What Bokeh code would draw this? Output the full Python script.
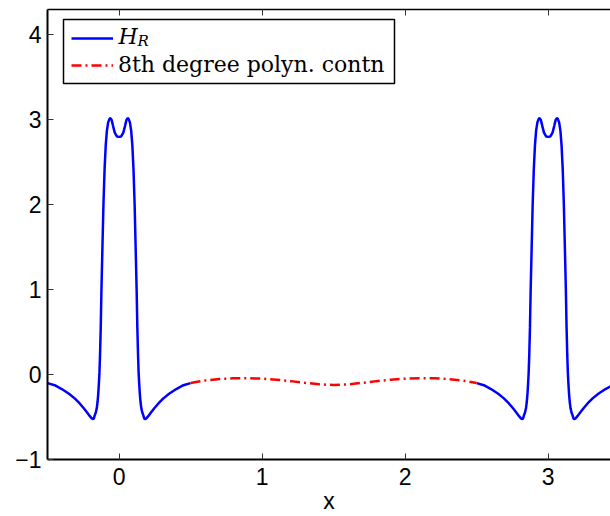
from bokeh.plotting import figure
from bokeh.models import (Range1d, LinearAxis, FixedTicker, Legend, LegendItem, Label,
                          CustomJSTickFormatter, BoxAnnotation)
from bokeh.embed import file_html
from bokeh.resources import INLINE

# H_R, left period segment
x_left = [-0.500, -0.450, -0.400, -0.350, -0.310, -0.275, -0.245, -0.222, -0.204, -0.191,
          -0.181, -0.176, -0.170, -0.163, -0.156, -0.150, -0.145, -0.141, -0.137, -0.133,
          -0.128, -0.123, -0.116, -0.109, -0.101, -0.093, -0.085, -0.076, -0.066, -0.060,
          -0.052, -0.042, -0.030, -0.015, 0.000, 0.015, 0.030, 0.042, 0.052, 0.060,
          0.066, 0.076, 0.085, 0.093, 0.101, 0.109, 0.116, 0.123, 0.128, 0.133,
          0.137, 0.141, 0.145, 0.150, 0.156, 0.163, 0.170, 0.176, 0.181, 0.191,
          0.204, 0.222, 0.245, 0.275, 0.310, 0.350, 0.400, 0.450, 0.500]
y_left = [-0.10, -0.125, -0.17, -0.225, -0.28, -0.34, -0.40, -0.45, -0.49, -0.515,
          -0.525, -0.515, -0.48, -0.45, -0.40, -0.32, -0.22, -0.11, 0.02, 0.22,
          0.55, 1.00, 1.50, 2.00, 2.42, 2.70, 2.87, 2.97, 3.015, 3.02,
          3.00, 2.93, 2.85, 2.805, 2.80, 2.805, 2.85, 2.93, 3.00, 3.02,
          3.015, 2.97, 2.87, 2.70, 2.42, 2.00, 1.50, 1.00, 0.55, 0.22,
          0.02, -0.11, -0.22, -0.32, -0.40, -0.45, -0.48, -0.515, -0.525, -0.515,
          -0.49, -0.45, -0.40, -0.34, -0.28, -0.225, -0.17, -0.125, -0.10]

# H_R, right period segment
x_right = [2.500, 2.550, 2.600, 2.650, 2.690, 2.725, 2.755, 2.778, 2.796, 2.809,
           2.819, 2.824, 2.830, 2.837, 2.844, 2.850, 2.855, 2.859, 2.863, 2.867,
           2.872, 2.877, 2.884, 2.891, 2.899, 2.907, 2.915, 2.924, 2.934, 2.940,
           2.948, 2.958, 2.970, 2.985, 3.000, 3.015, 3.030, 3.042, 3.052, 3.060,
           3.066, 3.076, 3.085, 3.093, 3.101, 3.109, 3.116, 3.123, 3.128, 3.133,
           3.137, 3.141, 3.145, 3.150, 3.156, 3.163, 3.170, 3.176, 3.181, 3.191,
           3.204, 3.222, 3.245, 3.275, 3.310, 3.350, 3.400, 3.450]
y_right = [-0.10, -0.125, -0.17, -0.225, -0.28, -0.34, -0.40, -0.45, -0.49, -0.515,
           -0.525, -0.515, -0.48, -0.45, -0.40, -0.32, -0.22, -0.11, 0.02, 0.22,
           0.55, 1.00, 1.50, 2.00, 2.42, 2.70, 2.87, 2.97, 3.015, 3.02,
           3.00, 2.93, 2.85, 2.805, 2.80, 2.805, 2.85, 2.93, 3.00, 3.02,
           3.015, 2.97, 2.87, 2.70, 2.42, 2.00, 1.50, 1.00, 0.55, 0.22,
           0.02, -0.11, -0.22, -0.32, -0.40, -0.45, -0.48, -0.515, -0.525, -0.515,
           -0.49, -0.45, -0.40, -0.34, -0.28, -0.225, -0.17, -0.125]

# 8th degree polynomial continuation
x_poly = [0.5, 0.6, 0.7, 0.8, 0.9, 1.0, 1.1, 1.2, 1.3, 1.4, 1.5,
          1.6, 1.7, 1.8, 1.9, 2.0, 2.1, 2.2, 2.3, 2.4, 2.5]
y_poly = [-0.10, -0.07, -0.052, -0.043, -0.042, -0.048, -0.06, -0.077, -0.097, -0.115, -0.123,
          -0.115, -0.097, -0.077, -0.06, -0.048, -0.042, -0.043, -0.052, -0.07, -0.10]

x_ticks = [0, 1, 2, 3]
y_ticks = [-1, 0, 1, 2, 3, 4]
legend_labels = ["H", "R", "8th degree polyn. contn"]

TICK_FONT = "Liberation Sans"
LEG_FONT = "DejaVu Serif"

p = figure(width=610, height=516, x_range=Range1d(-0.5, 3.435), y_range=Range1d(-1, 4.3),
           output_backend="svg", toolbar_location=None,
           min_border_left=47, min_border_right=0, min_border_top=9, min_border_bottom=57,
           x_axis_label="x")
p.xgrid.visible = False
p.ygrid.visible = False
p.outline_line_color = None
p.background_fill_color = "white"
p.border_fill_color = "white"

for ax in (p.xaxis[0], p.yaxis[0]):
    ax.axis_line_width = 2
    ax.axis_line_color = "black"
    ax.major_tick_in = 6
    ax.major_tick_out = 0
    ax.minor_tick_in = 0
    ax.minor_tick_out = 0
    ax.major_tick_line_color = "#333333"
    ax.major_label_text_font = TICK_FONT
    ax.major_label_text_font_size = "23px"
    ax.major_label_text_color = "black"

p.xaxis.ticker = FixedTicker(ticks=x_ticks)
p.yaxis.ticker = FixedTicker(ticks=y_ticks)
p.yaxis.major_label_overrides = {-1: "\u22121"}
p.yaxis.major_label_standoff = 6
p.xaxis.major_label_standoff = 8
p.xaxis.axis_label_text_font = TICK_FONT
p.xaxis.axis_label_text_font_size = "23px"
p.xaxis.axis_label_text_font_style = "normal"
p.xaxis.axis_label_text_color = "black"
p.xaxis.axis_label_standoff = 0

top = LinearAxis(ticker=FixedTicker(ticks=x_ticks),
                 formatter=CustomJSTickFormatter(code="return ''"),
                 major_label_standoff=0, axis_line_width=1.5, major_tick_in=6, major_tick_out=0,
                 minor_tick_in=0, minor_tick_out=0, major_tick_line_color="#333333")
p.add_layout(top, "above")

r_left = p.line(x_left, y_left, line_color="#0000ff", line_width=2.5)
r_right = p.line(x_right, y_right, line_color="#0000ff", line_width=2.5)
r_poly = p.line(x_poly, y_poly, line_color="#ff0000", line_width=2.5, line_dash="10 4 2 4")

# legend frame (screen units, relative to the plot frame)
p.add_layout(BoxAnnotation(left=16, right=347, bottom=376, top=440,
                           left_units="screen", right_units="screen",
                           bottom_units="screen", top_units="screen",
                           fill_alpha=0.0, line_color="black", line_width=1.5,
                           line_alpha=1.0))

legend = Legend(items=[LegendItem(label=" ", renderers=[r_left]),
                       LegendItem(label=legend_labels[2], renderers=[r_poly])],
                location=(24, 382), padding=0, spacing=4, margin=0,
                glyph_width=42, glyph_height=20, label_height=20, label_standoff=5,
                label_text_font=LEG_FONT, label_text_font_size="22px",
                label_text_color="black",
                border_line_color=None, background_fill_alpha=0.0)
p.add_layout(legend)

p.add_layout(Label(x=71, y=423, x_units="screen", y_units="screen", text=legend_labels[0],
                   text_font=LEG_FONT, text_font_style="italic", text_font_size="22px",
                   text_color="black", text_baseline="alphabetic"))
p.add_layout(Label(x=90, y=419, x_units="screen", y_units="screen", text=legend_labels[1],
                   text_font=LEG_FONT, text_font_style="italic", text_font_size="15px",
                   text_color="black", text_baseline="alphabetic"))

open("out.html", "w").write(file_html(p, INLINE))
